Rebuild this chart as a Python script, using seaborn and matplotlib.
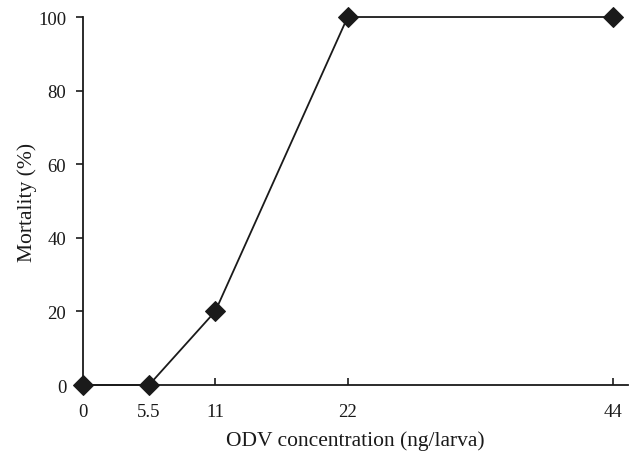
import matplotlib
matplotlib.use("Agg")
import matplotlib.pyplot as plt
import seaborn as sns
import pandas as pd

concentration = [0, 5.5, 11, 22, 44]
mortality = [0, 0, 20, 100, 100]
x_ticks = [0, 5.5, 11, 22, 44]
x_tick_labels = ["0", "5.5", "11", "22", "44"]
y_ticks = [0, 20, 40, 60, 80, 100]

sns.set_style("ticks")
plt.rcParams['font.family'] = ['Liberation Serif', 'DejaVu Serif']
plt.rcParams['font.size'] = 13.5

df = pd.DataFrame({"conc": concentration, "mort": mortality})

fig = plt.figure(figsize=(6.32, 4.56), dpi=100)
ax = fig.add_axes([0.131, 0.1535, 0.863, 0.807])
sns.lineplot(data=df, x="conc", y="mort", ax=ax, color="#1a1a1a", linewidth=1.3,
             marker="D", markersize=10.5, markeredgecolor="#1a1a1a", markerfacecolor="#1a1a1a")

ax.set_xlim(0, 45.3)
ax.set_ylim(0, 100)
ax.set_xticks(x_ticks)
ax.set_xticklabels(x_tick_labels)
ax.set_yticks(y_ticks)
ax.tick_params(axis="x", direction="in", length=5, width=1.2, pad=13, colors="#1a1a1a", labelsize=13.5)
ax.tick_params(axis="y", direction="out", length=5, width=1.2, pad=7, colors="#1a1a1a", labelsize=13.5)
for s in ["top", "right"]:
    ax.spines[s].set_visible(False)
for s in ["left", "bottom"]:
    ax.spines[s].set_linewidth(1.3)
    ax.spines[s].set_color("#1a1a1a")
    ax.spines[s].set_zorder(1)
ax.set_xlabel("ODV concentration (ng/larva)", fontsize=15.5, labelpad=7, color="#1a1a1a")
ax.set_ylabel("Mortality (%)", fontsize=15.5, labelpad=1, color="#1a1a1a")
for line in ax.lines:
    line.set_clip_on(False)
    line.set_zorder(5)

fig.savefig("out.png", dpi=100)
